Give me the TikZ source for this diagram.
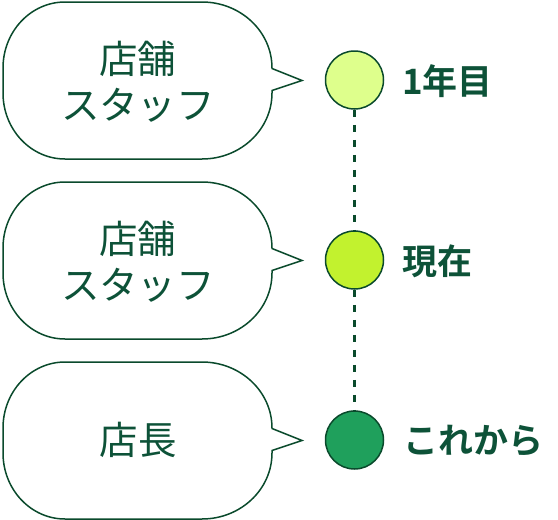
\documentclass[tikz,border=0pt]{standalone}
\usepackage{fontspec}
\newfontfamily\jp{Noto Sans CJK JP}
\newfontfamily\jpb{Noto Sans CJK JP Bold}
\definecolor{dkgreen}{HTML}{0A4A2C}
\definecolor{txtgreen}{HTML}{0D5238}
\definecolor{cA}{HTML}{DEFF8C}
\definecolor{cB}{HTML}{C2F22E}
\definecolor{cC}{HTML}{1FA05C}
\tikzset{
  bubbleline/.style={draw=dkgreen, line width=1.5pt, fill=white},
  bubbletext/.style={text=txtgreen, align=center, font=\jp\fontsize{38.5}{46}\selectfont},
  dot/.style={circle, draw=dkgreen, line width=1.5pt, minimum size=58pt, inner sep=0pt},
  stage/.style={anchor=west, text=txtgreen, inner sep=0pt, font=\jpb\fontsize{35}{40}\selectfont},
  link/.style={draw=dkgreen, line width=2.2pt, dash pattern=on 7pt off 8pt}
}
\newcommand{\speech}[1]{%
  \begin{scope}[yshift=#1]
    \draw[bubbleline] (272,12) -- (302,0) -- (272,-10) -- (272,-12.5)
      arc[start angle=0, end angle=-90, x radius=70, y radius=66] -- (65,-78.5)
      arc[start angle=-90, end angle=-180, x radius=62, y radius=66] -- (3,12.5)
      arc[start angle=180, end angle=90, x radius=62, y radius=66] -- (202,78.5)
      arc[start angle=90, end angle=0, x radius=70, y radius=66] -- cycle;
  \end{scope}}
\begin{document}
\begin{tikzpicture}[x=1pt, y=1pt]
\useasboundingbox (0,0) rectangle (558,-520);
\speech{-80.5pt}
\speech{-260.5pt}
\speech{-440.5pt}
\node[bubbletext] (t1) at (138,-82) {店舗\\スタッフ};
\node[bubbletext] (t2) at (138,-262) {店舗\\スタッフ};
\node[bubbletext] (t3) at (138,-440) {店長};
\node[dot, fill=cA] (c1) at (354.5,-80) {};
\node[dot, fill=cB] (c2) at (354.5,-260) {};
\node[dot, fill=cC] (c3) at (354.5,-440) {};
\draw[link] (c1) -- (c2);
\draw[link] (c2) -- (c3);
\node[stage] (l1) at (402,-81) {1年目};
\node[stage] (l2) at (402,-261) {現在};
\node[stage] (l3) at (403,-441) {これから};
\end{tikzpicture}
\end{document}
